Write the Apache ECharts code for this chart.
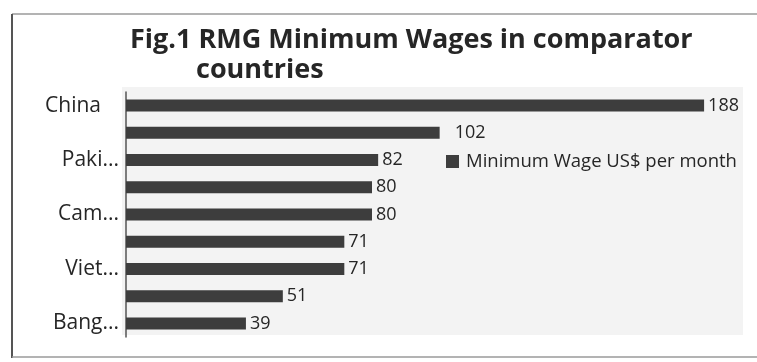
<!DOCTYPE html>
<html>
<head>
<meta charset="utf-8">
<script src="https://cdn.jsdelivr.net/npm/echarts@6/dist/echarts.min.js"></script>
<style>html,body{margin:0;padding:0;background:#fff;}#c{width:757px;height:362px;}</style>
</head>
<body>
<div id="c"></div>
<script>
// Categories top to bottom; only every other name is printed in the original
var categories = ["China", "Indo...", "Paki...", "India", "Cam...", "Sri...", "Viet...", "Myan...", "Bang..."];
var wages = [188, 102, 82, 80, 80, 71, 71, 51, 39];
var seriesName = "Minimum Wage US$ per month";
var titleLine1 = "Fig.1 RMG Minimum Wages in comparator";
var titleLine2 = "countries";

var FONT = "Open Sans";
var chart = echarts.init(document.getElementById('c'), null, {renderer: 'canvas'});

var dataItems = wages.map(function (v, i) {
  var item = {value: v};
  if (i === 1) item.label = {distance: 15};
  return item;
});

chart.setOption({
  backgroundColor: '#ffffff',
  animation: false,
  title: [
    {text: titleLine1, left: 125, top: 22,
     textStyle: {fontFamily: FONT, fontWeight: 'bold', fontSize: 27, color: '#262626'}},
    {text: titleLine2, left: 191, top: 52,
     textStyle: {fontFamily: FONT, fontWeight: 'bold', fontSize: 27, color: '#262626'}}
  ],
  legend: {
    left: 441, top: 147, orient: 'vertical',
    itemWidth: 13, itemHeight: 13, itemGap: 8,
    icon: 'rect',
    textStyle: {fontFamily: FONT, fontSize: 18.5, color: '#262626', padding: [0, 0, 0, 2]},
    data: [seriesName]
  },
  grid: {left: 126, top: 92, width: 615, height: 245, containLabel: false},
  xAxis: {
    type: 'value', min: 0, max: 200,
    show: false,
    splitLine: {show: false}
  },
  yAxis: {
    type: 'category', inverse: true, data: categories,
    axisLine: {show: true, lineStyle: {color: '#555555', width: 1.5}},
    axisTick: {show: false},
    axisLabel: {
      interval: 1, margin: 7,
      fontFamily: FONT, fontSize: 21, color: '#262626',
      formatter: function (v) { return v === 'China' ? '{c|' + v + '}' : v; },
      rich: {c: {fontFamily: FONT, fontSize: 21, color: '#262626', padding: [0, 18, 0, 0]}}
    }
  },
  graphic: [
    {type: 'rect', z: -10, shape: {x: 122, y: 87, width: 621, height: 248}, style: {fill: '#f3f3f3'}},
    {type: 'line', shape: {x1: 12, y1: 14, x2: 757, y2: 14}, style: {stroke: '#9a9a9a', lineWidth: 1.5}},
    {type: 'line', shape: {x1: 12, y1: 14, x2: 12, y2: 358}, style: {stroke: '#555555', lineWidth: 2}},
    {type: 'line', shape: {x1: 12, y1: 357, x2: 757, y2: 357}, style: {stroke: '#9a9a9a', lineWidth: 1.5}}
  ],
  series: [{
    name: seriesName,
    type: 'bar',
    data: dataItems,
    barWidth: 12,
    itemStyle: {color: '#3d3d3d'},
    label: {
      show: true, position: 'right', distance: 4,
      fontFamily: FONT, fontSize: 18, color: '#262626'
    }
  }]
});
</script>
</body>
</html>
